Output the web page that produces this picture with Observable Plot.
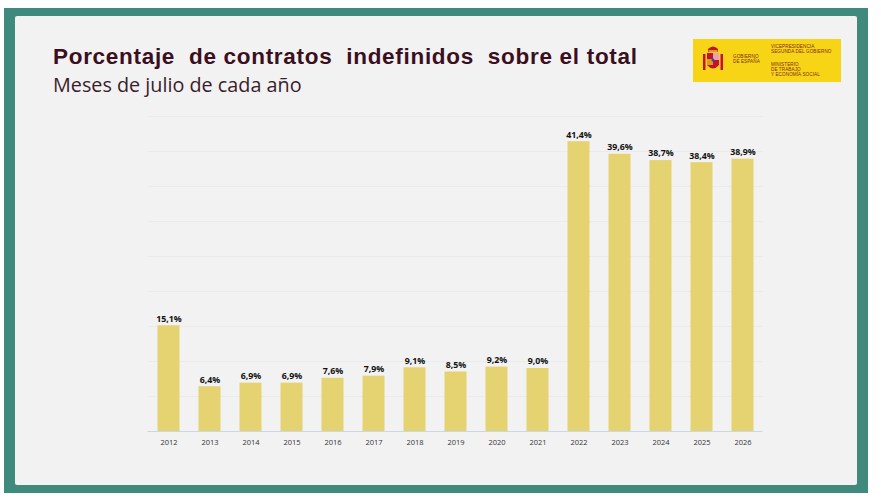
<!DOCTYPE html>
<html>
<head>
<meta charset="utf-8">
<script src="https://cdn.jsdelivr.net/npm/d3@7"></script>
<script src="https://cdn.jsdelivr.net/npm/@observablehq/plot@0.6"></script>
<style>
  html, body { margin: 0; padding: 0; background: #ffffff; width: 881px; height: 503px; overflow: hidden; }
  #frame { position: absolute; left: 4px; top: 8px; width: 864px; height: 485px; background: #408a7d; }
  #panel { position: absolute; left: 15px; top: 16px; width: 842px; height: 469px; background: #f2f2f2; border-radius: 2px; }
  #title { position: absolute; left: 53px; top: 46px; line-height: 1; font-family: "Liberation Sans", Arial, sans-serif; font-weight: bold; font-size: 22.5px; color: #3a0f20; white-space: pre; letter-spacing: 0.7px; }
  #subtitle { position: absolute; left: 53px; top: 74.5px; line-height: 1; font-family: "Open Sans", sans-serif; font-size: 19.8px; color: #3a1d2c; white-space: pre; }
  #logo { position: absolute; left: 693px; top: 39px; width: 148px; height: 43px; background: #f8d417; font-family: "Liberation Sans", Arial, sans-serif; color: #7a2a1a; }
  #logo .t { position: absolute; font-size: 4.6px; line-height: 5.2px; white-space: pre; letter-spacing: 0.1px; }
  #chart { position: absolute; left: 0; top: 100px; }
</style>
</head>
<body>
<div id="frame"></div>
<div id="panel"></div>
<div id="title">Porcentaje  de contratos  indefinidos  sobre el total</div>
<div id="subtitle">Meses de julio de cada año</div>
<div id="logo">
  <svg width="22" height="30" style="position:absolute;left:9px;top:6px" viewBox="0 0 22 30">
    <rect x="1" y="9" width="2.5" height="16" fill="#c8102e"/>
    <rect x="18.5" y="9" width="2.5" height="16" fill="#c8102e"/>
    <path d="M6 4 Q11 -1 16 4 L16 7 L6 7 Z" fill="#c8102e"/>
    <rect x="6.5" y="5" width="9" height="2" fill="#d4a017"/>
    <path d="M5 8 L17 8 L17 20 Q11 27 5 20 Z" fill="#c8102e"/>
    <rect x="11" y="8" width="6" height="7" fill="#e8a0c0"/>
    <rect x="5" y="14" width="6" height="6" fill="#d4a017"/>
    <circle cx="11" cy="15" r="1.5" fill="#3050a0"/>
  </svg>
  <div class="t" style="left:40px;top:15px">GOBIERNO
DE ESPAÑA</div>
  <div class="t" style="left:78px;top:5px">VICEPRESIDENCIA
SEGUNDA DEL GOBIERNO</div>
  <div class="t" style="left:78px;top:23px">MINISTERIO
DE TRABAJO
Y ECONOMÍA SOCIAL</div>
</div>
<div id="chart"></div>
<script>
const years = ["2012","2013","2014","2015","2016","2017","2018","2019","2020","2021","2022","2023","2024","2025","2026"];
const values = [15.1, 6.4, 6.9, 6.9, 7.6, 7.9, 9.1, 8.5, 9.2, 9.0, 41.4, 39.6, 38.7, 38.4, 38.9];
const gridTicks = [5, 10, 15, 20, 25, 30, 35, 40, 45];

const data = years.map((y, i) => ({year: y, value: values[i]}));
const fmt = v => v.toFixed(1).replace(".", ",") + "%";

const chart = Plot.plot({
  width: 881,
  height: 361,
  marginLeft: 147.5,
  marginRight: 118.5,
  marginTop: 16,
  marginBottom: 30,
  style: { background: "transparent", fontFamily: "Open Sans, sans-serif" },
  x: { domain: years, padding: 0, label: null },
  y: { domain: [0, 45], label: null, axis: null },
  marks: [
    Plot.ruleY(gridTicks, { stroke: "#ebebeb", strokeWidth: 1 }),
    Plot.barY(data, { x: "year", y: "value", fill: "#e5d270", insetLeft: 9.5, insetRight: 9.5 }),
    Plot.ruleY([0], { stroke: "#c9d7e6", strokeWidth: 1 }),
    Plot.text(data, { x: "year", y: "value", text: d => fmt(d.value), dy: -7, fontSize: 8.8, fontWeight: "bold", fill: "#111111" }),
    Plot.axisX({ tickSize: 0, tickPadding: 8, fontSize: 7.5, color: "#333333", label: null })
  ]
});
document.getElementById("chart").appendChild(chart);
</script>
</body>
</html>
